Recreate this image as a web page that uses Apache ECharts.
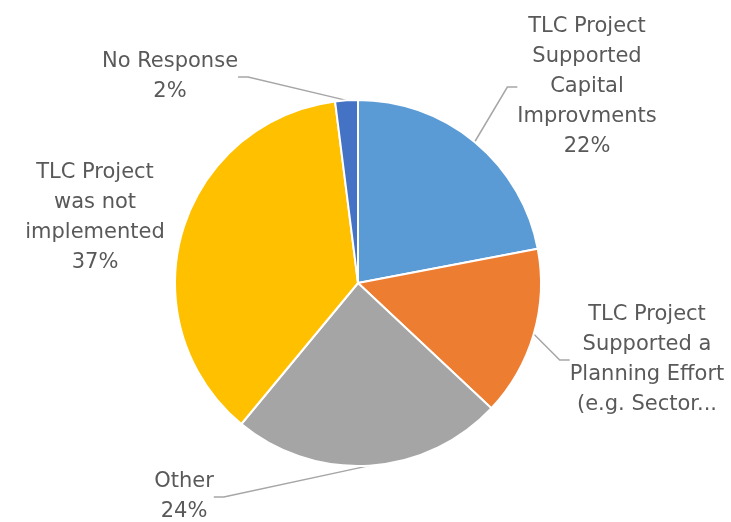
<!DOCTYPE html>
<html>
<head>
<meta charset="utf-8">
<script src="https://cdn.jsdelivr.net/npm/echarts@6/dist/echarts.min.js"></script>
<style>
  html, body { margin: 0; padding: 0; background: #fff; }
  #chart { width: 731px; height: 522px; }
</style>
</head>
<body>
<div id="chart"></div>
<script>
// 类别和数值
const categories = [
  "TLC Project\nSupported\nCapital\nImprovments",
  "TLC Project\nSupported a\nPlanning Effort\n(e.g. Sector...",
  "Other",
  "TLC Project\nwas not\nimplemented",
  "No Response"
];
const values = [22, 15, 24, 37, 2];
const colors = ["#5B9BD5", "#ED7D31", "#A5A5A5", "#FFC000", "#4472C4"];
// 规划那一块的标签没有百分比
const showPercent = [true, false, true, true, true];
// 未实施那一块没有引导线
const showLine = [true, true, true, false, true];

// 标签位置 (中心点)
const labelPos = [[587, 87], [647, 360], [184, 497], [95, 218], [170, 77]];

let myChart = echarts.init(document.getElementById("chart"));

myChart.setOption({
  animation: false,
  series: [
    {
      type: "pie",
      center: [358, 283],
      radius: 183,
      startAngle: 90,
      clockwise: true,
      percentPrecision: 0,
      data: categories.map((c, i) => ({
        name: c,
        value: values[i],
        itemStyle: { color: colors[i] },
        labelLine: { show: showLine[i] }
      })),
      itemStyle: {
        borderColor: "#fff",
        borderWidth: 2
      },
      label: {
        show: true,
        position: "outside",
        color: "#595959",
        fontFamily: "DejaVu Sans",
        fontSize: 21,
        lineHeight: 30,
        align: "center",
        formatter: (p) => showPercent[p.dataIndex] ? p.name + "\n" + p.percent + "%" : p.name
      },
      labelLine: {
        show: true,
        length: 10,
        length2: 10,
        lineStyle: { color: "#A6A6A6", width: 1.5 }
      },
      // 标签手动摆放
      labelLayout: (params) => ({
        x: labelPos[params.dataIndex][0],
        y: labelPos[params.dataIndex][1],
        align: "center",
        verticalAlign: "middle"
      })
    }
  ]
});
</script>
</body>
</html>
